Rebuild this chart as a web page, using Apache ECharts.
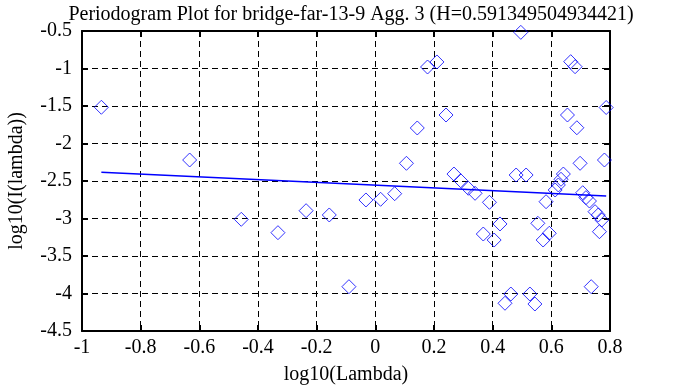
<!DOCTYPE html>
<html>
<head>
<meta charset="utf-8">
<script src="https://cdn.jsdelivr.net/npm/echarts@6/dist/echarts.min.js"></script>
<style>html,body{margin:0;padding:0;background:#fff;}#c{width:678px;height:387px;}</style>
</head>
<body>
<div id="c"></div>
<script>
const logLambda = [-0.934,-0.633,-0.457,-0.332,-0.236,-0.157,-0.090,-0.032,0.018,0.066,
  0.106,0.143,0.178,0.210,0.241,0.268,0.291,0.317,0.340,0.368,
  0.389,0.405,0.425,0.442,0.462,0.480,0.496,0.514,0.527,0.544,
  0.554,0.572,0.582,0.593,0.613,0.624,0.633,0.641,0.655,0.666,
  0.681,0.687,0.698,0.707,0.718,0.730,0.736,0.749,0.760,0.764,
  0.772,0.781,0.787];
const logI = [-1.517,-2.220,-3.011,-3.189,-2.896,-2.953,-3.909,-2.753,-2.744,-2.669,
  -2.264,-1.793,-0.980,-0.913,-1.620,-2.407,-2.496,-2.597,-2.664,-3.207,
  -2.784,-3.287,-3.073,-4.130,-4.007,-2.420,-0.518,-2.420,-4.007,-4.140,
  -3.064,-3.287,-2.776,-3.197,-2.620,-2.553,-2.477,-2.407,-1.620,-0.909,
  -0.976,-1.790,-2.264,-2.656,-2.722,-2.767,-3.909,-2.909,-2.953,-3.176,
  -3.020,-2.220,-1.520];
const fitX = [-0.934, 0.787];
const fitY = [-2.384, -2.700];
const xTicks = [-1,-0.8,-0.6,-0.4,-0.2,0,0.2,0.4,0.6,0.8];
const yTicks = [-4.5,-4,-3.5,-3,-2.5,-2,-1.5,-1,-0.5];

const FONT = '"Liberation Serif", "DejaVu Serif", serif';
const chart = echarts.init(document.getElementById('c'), null, {renderer:'canvas'});
const pts = logLambda.map((x,i)=>[x, logI[i]]);
const fit = fitX.map((x,i)=>[x, fitY[i]]);
const axLine = {show:true, onZero:false, lineStyle:{color:'#000', width:2}};
const tick = {show:true, inside:true, length:6, lineStyle:{color:'#000', width:2}};
const grid = {show:true, lineStyle:{color:'#000', width:1, type:[6,4]}};
chart.setOption({
  animation:false,
  backgroundColor:'#fff',
  title:{text:'Periodogram Plot for bridge-far-13-9 Agg. 3 (H=0.591349504934421)',
    left:346, textAlign:'center', top:0,
    textStyle:{fontFamily:FONT, fontSize:20, fontWeight:'normal', color:'#000'}},
  grid:{left:82, right:68, top:31, bottom:56, containLabel:false, outerBoundsMode:'none'},
  xAxis:[{type:'value', min:-1, max:0.8, interval:0.2, position:'bottom',
    name:'log10(Lambda)', nameLocation:'middle', nameGap:34,
    nameTextStyle:{fontFamily:FONT, fontSize:20, color:'#000'},
    axisLine:axLine, axisTick:tick,
    axisLabel:{fontFamily:FONT, fontSize:20, color:'#000', margin:7,
      formatter:v=>{const t=xTicks.find(a=>Math.abs(a-v)<1e-9); return t===undefined?'':String(t);}},
    splitLine:grid},
   {type:'value', min:-1, max:0.8, interval:0.2, position:'top',
    axisLine:axLine, axisTick:tick,
    axisLabel:{show:false}, splitLine:{show:false}}],
  yAxis:[{type:'value', min:-4.5, max:-0.5, interval:0.5, position:'left',
    name:'log10(I(lambda))', nameLocation:'middle', nameGap:55,
    nameTextStyle:{fontFamily:FONT, fontSize:20, color:'#000'},
    axisLine:axLine, axisTick:tick,
    axisLabel:{fontFamily:FONT, fontSize:20, color:'#000', margin:10,
      formatter:v=>{const t=yTicks.find(a=>Math.abs(a-v)<1e-9); return t===undefined?'':String(t);}},
    splitLine:grid},
   {type:'value', min:-4.5, max:-0.5, interval:0.5, position:'right',
    axisLine:axLine, axisTick:tick,
    axisLabel:{show:false}, splitLine:{show:false}}],
  series:[
    {type:'scatter', data:pts, symbol:'diamond', symbolSize:14, xAxisIndex:0, yAxisIndex:0,
     itemStyle:{color:'rgba(0,0,0,0)', borderColor:'#0000ff', borderWidth:1}, z:3},
    {type:'line', data:fit, symbol:'none', xAxisIndex:0, yAxisIndex:0,
     lineStyle:{color:'#0000ff', width:1.5}, z:4}
  ]
});
</script>
</body>
</html>
